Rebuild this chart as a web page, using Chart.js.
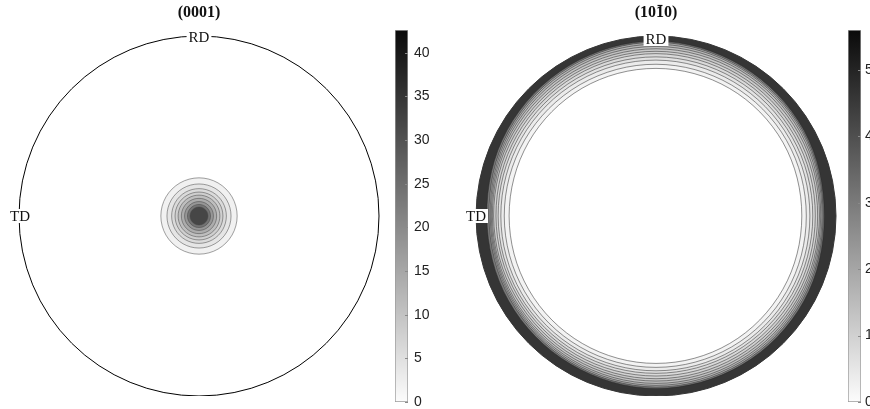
<!DOCTYPE html>
<html><head><meta charset="utf-8">
<script src="https://cdn.jsdelivr.net/npm/chart.js@4/dist/chart.umd.min.js"></script>
<style>
html,body{margin:0;padding:0;background:#fff;overflow:hidden;width:870px;height:409px;position:relative;}
canvas{position:absolute;}
</style></head><body>
<canvas id="pfL" style="left:0;top:0;width:390px;height:396px" width="390" height="396"></canvas>
<canvas id="cbL" style="left:395px;top:0;width:60px;height:420px" width="60" height="420"></canvas>
<canvas id="pfR" style="left:460px;top:0;width:390px;height:396px" width="390" height="396"></canvas>
<canvas id="cbR" style="left:848px;top:0;width:60px;height:420px" width="60" height="420"></canvas>
<script>
// ---------- data ----------
// titles: pieces of text, the flagged piece carries an overbar
const titleLeft  = [{t:'(0001)'}];
const titleRight = [{t:'(10'}, {t:'1', bar:true}, {t:'0)'}];
const angleLabels = ['0°','30°','60°','90°','120°','150°','180°','210°','240°','270°','300°','330°'];
// left pole figure: circular spot at the centre
const spotLevels = [2, 4, 6, 8, 11, 14, 18, 24, 32];
const spotRadii  = [0.212, 0.178, 0.152, 0.133, 0.116, 0.098, 0.080, 0.064, 0.050];
// right pole figure: ring near the rim (radius per angle, from RD clockwise)
const ringLevels = [0.2, 0.4, 0.6, 0.8, 1.0, 1.2, 1.4, 1.6, 1.9, 3.0, 4.6];
const ringC0  = [0.820,0.818,0.815,0.810,0.814,0.818,0.819,0.818,0.817,0.816,0.818,0.820];
const ringC1  = [0.843,0.840,0.838,0.835,0.838,0.840,0.841,0.841,0.842,0.843,0.843,0.843];
const ringC2  = [0.866,0.861,0.857,0.855,0.857,0.859,0.860,0.860,0.861,0.862,0.863,0.865];
const ringC3  = [0.884,0.879,0.874,0.871,0.872,0.873,0.874,0.875,0.876,0.877,0.879,0.882];
const ringC4  = [0.902,0.895,0.889,0.885,0.886,0.888,0.889,0.889,0.888,0.889,0.893,0.898];
const ringC5  = [0.915,0.909,0.903,0.898,0.899,0.902,0.904,0.902,0.900,0.902,0.906,0.911];
const ringC6  = [0.929,0.923,0.916,0.908,0.911,0.915,0.917,0.914,0.911,0.909,0.918,0.924];
const ringC7  = [0.942,0.935,0.927,0.915,0.921,0.927,0.930,0.925,0.919,0.915,0.928,0.937];
const ringC8  = [0.954,0.945,0.936,0.922,0.930,0.937,0.941,0.934,0.926,0.921,0.937,0.948];
const ringC9  = [0.965,0.952,0.943,0.928,0.938,0.946,0.950,0.942,0.933,0.928,0.945,0.957];
const ringC10 = [0.972,0.960,0.950,0.935,0.948,0.955,0.958,0.950,0.945,0.940,0.955,0.965];
const ringContours = [ringC0,ringC1,ringC2,ringC3,ringC4,ringC5,ringC6,ringC7,ringC8,ringC9,ringC10];
// colour bars
const leftMax = 42.6, rightMax = 5.6;
const leftTicks  = [0,5,10,15,20,25,30,35,40];
const rightTicks = [0,1,2,3,4,5];

// ---------- helpers ----------
function gray(t){ const v = Math.round(252 - Math.max(0,Math.min(1,t))*242); return `rgb(${v},${v},${v})`; }
const SERIF = '"Liberation Serif", "DejaVu Serif", serif';

const poleLabels = {
  id:'poleLabels',
  afterDatasetsDraw(chart, args, opts){
    const s = chart.scales.r, c = chart.ctx;
    c.save();
    c.font = '15px ' + SERIF;
    c.textAlign = 'center'; c.textBaseline = 'middle';
    (opts.items||[]).forEach(it=>{
      const p = s.getPointPositionForValue(it.index, s.max);
      const x = p.x + (it.dx||0), y = p.y + (it.dy||0);
      const w = c.measureText(it.text).width + 4, h = 14;
      c.fillStyle = '#fff'; c.fillRect(x - w/2, y - h/2, w, h);
      c.fillStyle = '#111'; c.fillText(it.text, x, y + 1);
    });
    // title, centred over the pole figure
    const parts = opts.title || [];
    c.font = 'bold 16px ' + SERIF;
    c.textAlign = 'left'; c.textBaseline = 'middle';
    const total = parts.reduce((a,p)=>a + c.measureText(p.t).width, 0);
    let x = s.xCenter - total/2; const y = 13;
    c.fillStyle = '#111'; c.strokeStyle = '#111'; c.lineWidth = 1.2;
    parts.forEach(p=>{
      const w = c.measureText(p.t).width;
      c.fillText(p.t, x, y);
      if (p.bar){ c.beginPath(); c.moveTo(x + 1.5, y - 7.5); c.lineTo(x + w - 1.5, y - 7.5); c.stroke(); }
      x += w;
    });
    c.restore();
  }
};

function poleChart(id, title, datasets, bg, lineColor, items, padL, padR){
  return new Chart(document.getElementById(id), {
    type:'radar',
    data:{ labels: angleLabels, datasets },
    options:{
      responsive:false, animation:false, devicePixelRatio:1,
      layout:{padding:{left:padL, right:padR, top:36, bottom:0}},
      plugins:{
        legend:{display:false}, tooltip:{enabled:false}, title:{display:false},
        poleLabels:{items, title}
      },
      elements:{ point:{radius:0, hoverRadius:0}, line:{tension:0.35} },
      scales:{ r:{
        min:0, max:1, backgroundColor: bg,
        ticks:{display:false, stepSize:1},
        grid:{circular:true, color:lineColor, lineWidth:1},
        angleLines:{display:false},
        pointLabels:{display:false}
      }}
    },
    plugins:[poleLabels]
  });
}

// left: innermost first (drawn on top)
const leftSets = spotRadii.map((r,k)=>({
  data: angleLabels.map(()=>r),
  fill:true, backgroundColor: gray(spotLevels[k]/leftMax),
  borderColor:'rgba(70,70,70,0.85)', borderWidth:0.6
})).reverse();
poleChart('pfL', titleLeft, leftSets, null, '#000',
  [{index:0, text:'RD', dy:1}, {index:9, text:'TD', dx:1}], 19, 11);

// right: contour k encloses region coloured by level k-1 (white inside the first)
const rightSets = ringContours.map((arr,k)=>({
  data: arr,
  fill:true, backgroundColor: k===0 ? '#fff' : gray(ringLevels[k-1]/rightMax),
  borderColor:'rgba(40,40,40,0.85)', borderWidth:0.6
}));
const edgeCol = gray(ringLevels[ringLevels.length-1]/rightMax);
poleChart('pfR', titleRight, rightSets, edgeCol, edgeCol,
  [{index:0, text:'RD', dy:3}, {index:9, text:'TD'}], 16, 14);

// colour bars
const barTicks = {
  id:'barTicks',
  afterDatasetsDraw(chart){
    const s = chart.scales.y, ca = chart.chartArea, c = chart.ctx;
    c.save(); c.strokeStyle = '#8a8a8a'; c.lineWidth = 1;
    s.ticks.forEach(t=>{
      const y = Math.round(s.getPixelForValue(t.value)) + 0.5;
      c.beginPath(); c.moveTo(ca.right - 3, y); c.lineTo(ca.right, y); c.stroke();
    });
    c.restore();
  }
};
function colorBar(id, max, ticks, pad){
  return new Chart(document.getElementById(id), {
    type:'bar',
    data:{ labels:['v'], datasets:[{
      data:[[0,max]],
      backgroundColor:(ctx)=>{
        const ca = ctx.chart.chartArea; if(!ca) return '#888';
        const g = ctx.chart.ctx.createLinearGradient(0, ca.bottom, 0, ca.top);
        g.addColorStop(0, gray(0)); g.addColorStop(1, gray(1)); return g;
      },
      borderColor:'#9a9a9a', borderWidth:1, borderSkipped:false,
      barPercentage:1, categoryPercentage:1
    }]},
    options:{
      responsive:false, animation:false, devicePixelRatio:1,
      layout:{padding:{top:30, bottom:18, left:0, right:0}},
      plugins:{legend:{display:false}, tooltip:{enabled:false}, title:{display:false}},
      scales:{
        x:{display:false},
        y:{position:'right', min:0, max:max,
          afterBuildTicks:(s)=>{ s.ticks = ticks.map(v=>({value:v})); },
          afterFit:(s)=>{ s.width = 47; },
          grid:{display:false, drawTicks:false}, border:{display:false},
          ticks:{padding:pad, color:'#222', font:{family:'"Liberation Sans", Arial, sans-serif', size:14}}
        }
      }
    },
    plugins:[barTicks]
  });
}
colorBar('cbL', leftMax, leftTicks, 6);
colorBar('cbR', rightMax, rightTicks, 4);
</script>
</body></html>
